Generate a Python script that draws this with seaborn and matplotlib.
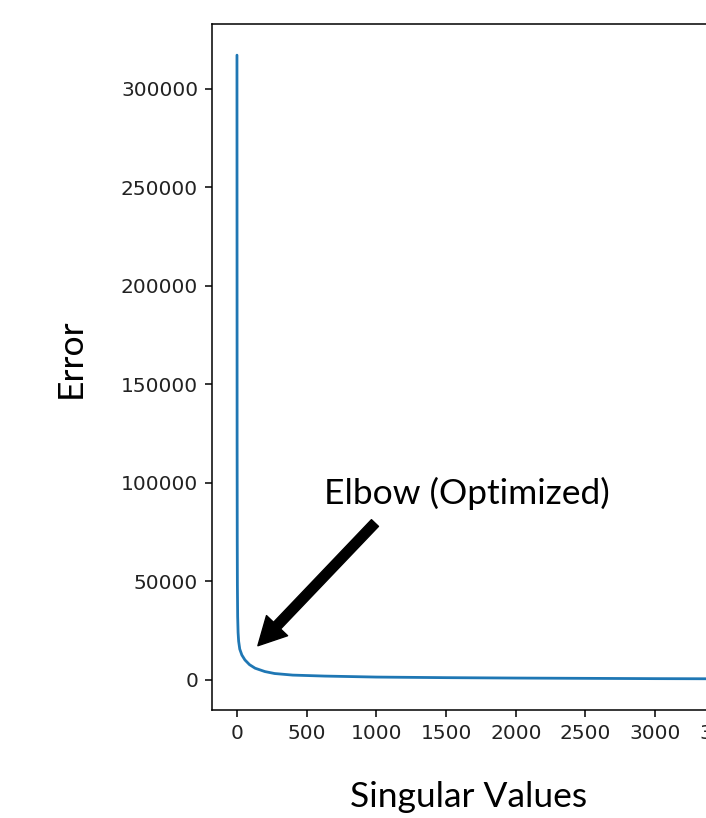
import matplotlib
matplotlib.use("Agg")
import matplotlib.pyplot as plt
import pandas as pd
import seaborn as sns

# Error vs number of singular values kept
singular_values = [0, 1, 2, 3, 5, 8, 12, 20, 35, 57, 90, 130, 200, 270, 400,
                   630, 1000, 1500, 2000, 2500, 3000, 3580]
errors = [317000, 120000, 70000, 48000, 32000, 24000, 19500, 15500, 12500,
          10000, 7600, 5800, 4100, 3100, 2300, 1800, 1300, 1000, 800, 650,
          500, 400]

x_ticks = [0, 500, 1000, 1500, 2000, 2500, 3000, 3500]
y_ticks = [0, 50000, 100000, 150000, 200000, 250000, 300000]

df = pd.DataFrame({"sv": singular_values, "err": errors})

sns.set_style("ticks")
plt.rcParams["font.family"] = ["DejaVu Sans"]

fig = plt.figure(figsize=(7.06, 8.18), dpi=100)
ax = fig.add_axes([0.3003, 0.132, 0.7776, 0.8387])

sns.lineplot(data=df, x="sv", y="err", ax=ax, color="#1f77b4", linewidth=2)

ax.set_xticks(x_ticks)
ax.set_yticks(y_ticks)
ax.tick_params(labelsize=14.5, length=5, width=1.1, pad=5,
               colors="black", labelcolor="#222222")
for s in ax.spines.values():
    s.set_linewidth(1.1)
    s.set_color("black")

label_font = ["Lato", "DejaVu Sans"]
ax.set_xlabel("Singular Values", fontsize=25.5, family=label_font, color="black")
ax.set_ylabel("Error", fontsize=25.5, family=label_font, color="black")
ax.xaxis.set_label_coords(0.468, -0.104)
ax.yaxis.set_label_coords(-0.229, 0.513)

# annotation pointing at the elbow
ax.text(1650, 94700, "Elbow (Optimized)", fontsize=25.5, family=label_font,
        ha="center", va="center", color="black")
ax.annotate("", xy=(150, 17200), xytext=(990, 79500),
            arrowprops=dict(facecolor="black", edgecolor="black", width=7,
                            headwidth=21, headlength=20, shrink=0))

fig.savefig("out.png", dpi=100)
